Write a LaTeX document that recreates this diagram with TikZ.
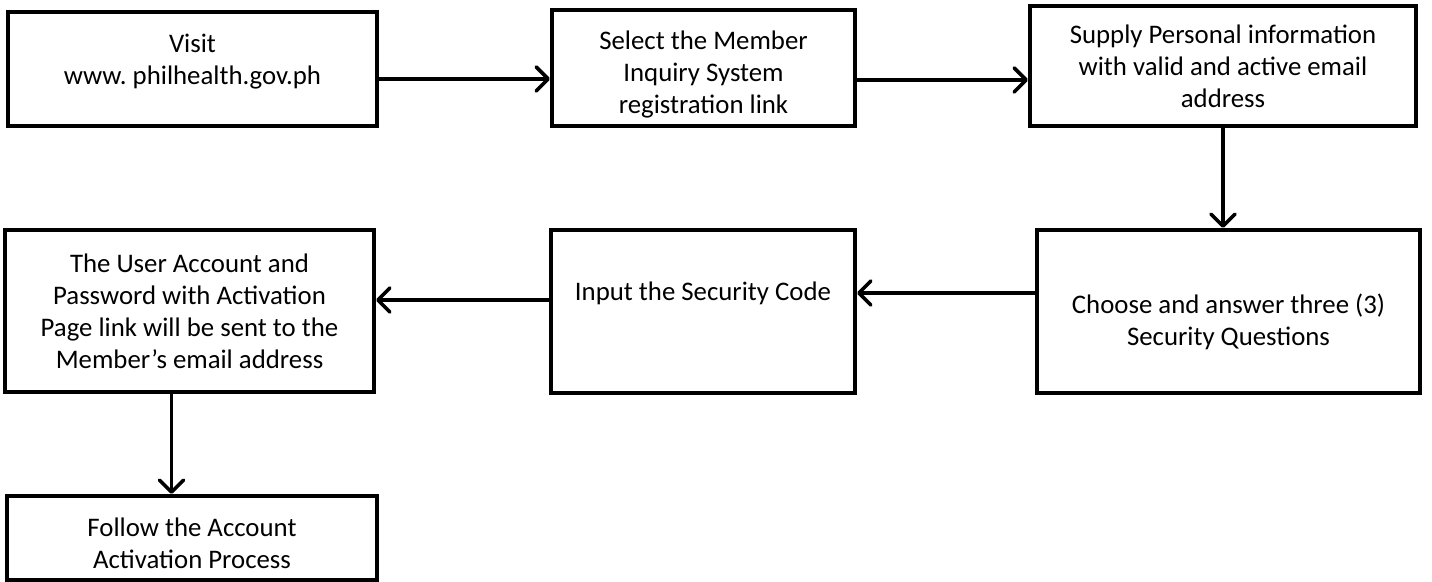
\documentclass[tikz,border=0pt]{standalone}
\usepackage{fontspec}
\setmainfont{Carlito}
\usetikzlibrary{arrows.meta}
\tikzset{
    stepbox/.style={draw, line width=2pt, align=center, inner sep=2pt, font=\fontsize{13.4}{16}\selectfont},
    flow/.style={line width=1.8pt, -{Straight Barb[length=6pt,width=12pt,round]}}
}

\begin{document}
\begin{tikzpicture}[x=0.5pt,y=-0.5pt]
        \useasboundingbox (0,0) rectangle (1432,582);
        % top row
        \node[stepbox, minimum width=184.5pt, minimum height=57pt, text depth=10pt] (visit) at (192.5,69) {Visit\\www.\ philhealth.gov.ph};
        \node[stepbox, minimum width=151.5pt, minimum height=58pt, text height=47.4pt] (select) at (703.5,68) {Select the Member\\Inquiry System\\registration link};
        \node[stepbox, minimum width=193pt, minimum height=60pt] (supply) at (1223,66) {Supply Personal information\\with valid and active email\\address};
        % middle row
        \node[stepbox, minimum width=191.5pt, minimum height=81.5pt, text height=36pt] (choose) at (1228.5,311.5) {Choose and answer three (3)\\Security Questions};
        \node[stepbox, minimum width=152pt, minimum height=81.5pt] (code) at (703,311.5) {Input the Security Code\\\strut};
        \node[stepbox, minimum width=184.5pt, minimum height=81pt] (account) at (189.5,311) {The User Account and\\Password with Activation\\Page link will be sent to the\\Member’s email address};
        % last step
        \node[stepbox, minimum width=185pt, minimum height=42pt, text height=30.5pt] (follow) at (192,538) {Follow the Account\\Activation Process};

        \foreach \from/\to/\y in {visit.east/select.west/79, select.east/supply.west/80, choose.west/code.east/293, code.west/account.east/300}{
            \draw[flow] (\from |- 0,\y) -- (\to |- 0,\y);
        }
        \draw[flow] (supply.south) -- (supply.south |- choose.north);
        \draw[flow] ([xshift=-9pt]account.south) -- ([xshift=-9pt]account.south |- follow.north);
    \end{tikzpicture}
\end{document}
